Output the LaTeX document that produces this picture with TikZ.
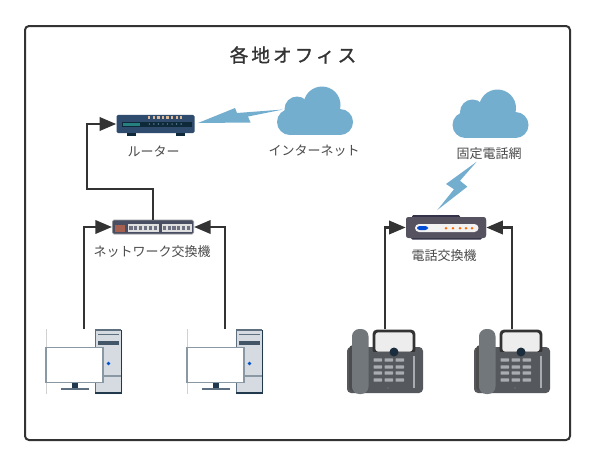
\documentclass[tikz,border=0pt]{standalone}
\usepackage{fontspec}
\setmainfont{Noto Sans CJK JP}
\newfontfamily\titlefont[LetterSpace=16,FakeBold=1.2]{Noto Sans CJK JP}
\usetikzlibrary{arrows.meta}
\definecolor{ink}{HTML}{333333}
\definecolor{cloudblue}{HTML}{74AECF}
\definecolor{labelgray}{HTML}{4A4A4A}
\definecolor{towerfill}{HTML}{D5DBE1}
\definecolor{towerline}{HTML}{5E7080}
\definecolor{towerdark}{HTML}{22384C}
\definecolor{monline}{HTML}{8A98A3}
\definecolor{phonebody}{HTML}{55585C}
\definecolor{phonehand}{HTML}{72777C}
\definecolor{phonekey}{HTML}{A9ADB2}
\definecolor{routerbody}{HTML}{2F4C6E}
\definecolor{routerstrip}{HTML}{0E2A3A}
\definecolor{switchbody}{HTML}{4A4E63}
\definecolor{pbxbody}{HTML}{575260}
\definecolor{pbxdark}{HTML}{343248}
\definecolor{switchred}{HTML}{A5604F}
\tikzset{
  x=0.75pt,y=-0.75pt,
  link/.style={draw=ink,line width=2pt,-{Triangle[length=12.5pt,width=10pt]}},
  lbl/.style={text=labelgray,font=\fontsize{9.75pt}{12pt}\selectfont,inner sep=0pt},
  devicebox/.style={inner sep=0pt,rounded corners=1.2pt},
}
\newcommand\cloudicon[2]{%
  \begin{scope}[shift={(#1,#2)}]
    \fill[cloudblue] (290,122) circle[radius=13];
    \fill[cloudblue] (297,109) circle[radius=12.5];
    \fill[cloudblue] (322,105) circle[radius=18.5];
    \fill[cloudblue] (340,122) circle[radius=13];
    \fill[cloudblue] (290,112) rectangle (340,135);
  \end{scope}}
\newcommand\pcicon[1]{%
  \begin{scope}[shift={(#1,0)}]
    \draw[black!18,line width=0.5pt] (46,329) -- (46,394);
    \fill[towerfill,rounded corners=1pt] (95,329.5) rectangle (122,394);
    \draw[towerline,line width=1.2pt] (95.5,394) -- (95.5,330) -- (121,330);
    \draw[towerdark,line width=1.2pt] (121.5,330) -- (121.5,393);
    \fill[towerdark] (95,391.5) rectangle (122,394);
    \draw[towerline,line width=1.2pt] (98,334.5) -- (119,334.5);
    \fill[towerdark!85!white] (98,340.5) rectangle (119,344.5);
    \draw[monline,line width=1pt] (95,376) -- (121,376);
    \fill[blue!60!cyan!80!black] (108.5,363.5) circle[radius=1.8];
    \fill[towerdark] (72,383) rectangle (78,388.5);
    \fill[towerline] (61,387.5) rectangle (88.5,390);
    \draw[monline,fill=white,line width=1.4pt] (46,347.5) rectangle (103,382.5);
  \end{scope}}
\newcommand\phoneicon[1]{%
  \begin{scope}[shift={(#1,0)}]
    \fill[phonebody,rounded corners=3pt] (347,347) rectangle (423,393);
    \draw[black!80,line width=2.2pt,fill=black!7,rounded corners=2.5pt] (374,331) rectangle (414,353);
    \fill[phonebody] (372,351.5) rectangle (416,356);
    \fill[black!70,rounded corners=3pt] (349,345) rectangle (358,391);
    \fill[phonehand,rounded corners=5.5pt] (352,329) rectangle (368.5,394);
    \fill[towerdark!80!black] (394,352) circle[radius=4.5];
    \foreach \ky in {360,367,373,380}
      \foreach \kx in {373.5,384.5,395.5}
        \fill[phonekey,rounded corners=0.5pt] (\kx,\ky-1.7) rectangle ++(8.5,3.4);
    \fill[phonekey] (412.5,356) rectangle (415,388);
    \fill[towerdark!70!white] (388,388) circle[radius=0.8];
  \end{scope}}
\begin{document}
\begin{tikzpicture}
\useasboundingbox (0,0) rectangle (595,465);
\fill[white] (0,0) rectangle (595,465);
\draw[ink,line width=1.5pt,rounded corners=3pt] (25,26) rectangle (570,440);

\node[inner sep=0pt,text=ink] (title) at (293,55) {\titlefont\fontsize{14pt}{16pt}\selectfont 各地オフィス};

% devices
\node[devicebox,fill=routerbody,minimum width=58.5pt,minimum height=13.8pt] (router) at (155.5,124) {};
\node[devicebox,fill=switchbody,draw=black!40,line width=0.5pt,minimum width=61pt,minimum height=10.5pt] (switch) at (153,227) {};
\node[devicebox,rounded corners=2pt,fill=pbxbody,minimum width=60pt,minimum height=15.7pt] (pbx) at (446,227.5) {};

% router details
\fill[routerstrip] (127,133) rectangle (136,135.5);
\fill[routerstrip] (176,133) rectangle (185,135.5);
\fill[routerstrip] (122,122) rectangle (192,126.5);
\fill[teal!70!gray] (123,123) rectangle (140,125.5);
\foreach \i in {0,...,7} {
  \fill[brown!55!white] (148.2+\i*4.55,115.6) rectangle ++(2.2,3.4);
  \fill[cyan!40!gray] (149.3+\i*4.55,124) circle[radius=0.7];
}
% switch details
\foreach \i in {0,...,4} \fill[switchred] (115.4+\i*2,225) rectangle ++(1.3,7);
\fill[white!88!black] (128,224) rectangle (159,232);
\fill[white!88!black] (161.5,224) rectangle (192,232);
\foreach \i in {0,...,5} {
  \fill[switchbody!80!white] (129.3+\i*4.9,225.5) rectangle ++(3.2,4.5);
  \fill[switchbody!80!white] (162.8+\i*4.8,225.5) rectangle ++(3.2,4.5);
}
% pbx details
\fill[pbxdark,rounded corners=1pt] (412,215) rectangle (460,219);
\fill[pbxdark,rounded corners=1pt] (411,236) rectangle (482,239.5);
\fill[pbxbody,rounded corners=2pt] (406,217) rectangle (486,238);
\fill[black!5,rounded corners=3pt] (415,224) rectangle (478.5,232);
\fill[blue!65!cyan!85!black,rounded corners=2pt] (417,226) rectangle (428,230);
\foreach \dx in {446,453,460,466,472} \fill[orange!80!red] (\dx,228.3) circle[radius=1.4];

% clouds
\cloudicon{0}{0}
\cloudicon{175.5}{3}
% bolts
\fill[cloudblue] (198,123) -- (235,108) -- (237,113) -- (283,109.5) -- (248,116.5) -- (250.5,122.5) -- cycle;
\fill[cloudblue] (476.7,161.7) -- (446,184) -- (454,189.3) -- (437.3,210) -- (467.3,186.7) -- (460,180.7) -- cycle;

% end devices
\pcicon{0}
\pcicon{141}
\phoneicon{0}
\phoneicon{127}

% free ends and bends
\coordinate (pca) at (84,329);
\coordinate (pcb) at (225,329);
\coordinate (tela) at (385,329);
\coordinate (telb) at (512,329);
\coordinate (bendup) at (153,189);
\coordinate (bendleft) at (87,189);

\draw[link] (pca) |- (switch.west);
\draw[link] (pcb) |- (switch.east);
\draw[link] (tela) |- (pbx.west);
\draw[link] (telb) |- (pbx.east);
\draw[link] (switch.north) -- (bendup) -- (bendleft) |- (router.west);

% labels
\node[lbl] (lrouter) at (153.5,151) {ルーター};
\node[lbl] (lnet) at (314,151) {インターネット};
\node[lbl] (lswitch) at (152,252) {ネットワーク交換機};
\node[lbl] (lpbx) at (444,256) {電話交換機};
\node[lbl] (lpstn) at (489,154) {固定電話網};
\end{tikzpicture}
\end{document}
